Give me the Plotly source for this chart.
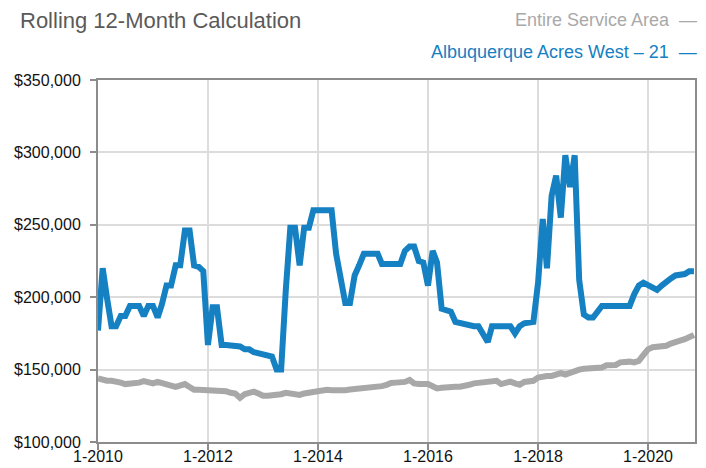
import pandas as pd
import plotly.graph_objects as go

# Monthly dates, Jan 2010 .. Nov 2020
months = pd.date_range("2010-01-01", periods=131, freq="MS")

# Albuquerque Acres West – 21 (rolling 12-month, $ thousands)
area_values_k = [
    177, 220, 200, 180, 180, 187, 187, 194, 194, 194, 187, 194,   # 2010
    194, 186, 195, 208, 208, 222, 222, 246, 246, 222, 221, 218,   # 2011
    167, 193, 193, 167, 167, 167, 167, 166, 164, 164, 162, 161,   # 2012
    160, 160, 159, 150, 150, 205, 248, 248, 222, 248, 248, 260,   # 2013
    260, 260, 260, 260, 230, 213, 196, 196, 215, 222, 230, 230,   # 2014
    230, 230, 223, 223, 223, 223, 223, 232, 235, 235, 225, 224,   # 2015
    208, 232, 224, 192, 191, 190, 183, 182, 181, 181, 180, 180,   # 2016
    175, 169, 180, 180, 180, 180, 180, 175, 180, 182, 183, 183,   # 2017
    210, 254, 220, 270, 284, 255, 298, 276, 298, 212, 188, 186,   # 2018
    186, 190, 194, 194, 194, 194, 194, 194, 194, 202, 208, 210,   # 2019
    208, 207, 205, 208, 211, 213, 215, 215, 216, 218, 218,        # 2020
]

# Entire Service Area (rolling 12-month, $ thousands)
service_values_k = [
    144, 143, 142.3, 142.3, 142, 141, 140, 140, 140, 141, 142, 141,            # 2010
    140.5, 141.5, 141, 140, 139, 138, 139.5, 140, 138, 136, 136, 136,         # 2011
    136, 135.5, 135, 135.5, 135, 134, 133.5, 130.5, 133, 134, 134.8, 133.5,   # 2012
    132, 132, 132, 132, 133, 134, 133.5, 133, 132.5, 133.5, 134, 135,         # 2013
    135.8, 136, 136, 135.8, 135.5, 135.2, 135.8, 136.2, 136.4, 136.6, 136.8, 137,  # 2014
    137.2, 138, 138.6, 139.5, 140.8, 141, 141, 141.5, 142.8, 140.5, 140, 140,      # 2015
    140, 138.5, 137, 137.5, 138, 138.2, 138.2, 138.2, 138.5, 139.5, 140.5, 140.7,  # 2016
    141, 141, 141.5, 142.3, 140, 141, 141.7, 140.5, 139.5, 141.5, 142.3, 142.3,    # 2017
    144.5, 145.6, 145.6, 145.6, 147, 147.5, 146.5, 148, 149.5, 150, 150.6, 150.9,  # 2018
    150.9, 150.9, 151.5, 153, 153.2, 153.2, 155, 155.5, 155.5, 155, 156, 160,      # 2019
    164, 165.5, 165.8, 165.8, 166.5, 168, 168.5, 170, 171, 172.5, 174,             # 2020
]

area_values = [v * 1000 for v in area_values_k]
service_values = [v * 1000 for v in service_values_k]

x_tick_dates = ["2010-01-01", "2012-01-01", "2014-01-01", "2016-01-01",
                "2018-01-01", "2020-01-01"]
x_tick_labels = ["1-2010", "1-2012", "1-2014", "1-2016", "1-2018", "1-2020"]

title_text = "Rolling 12-Month Calculation"
service_name = "Entire Service Area"
area_name = "Albuquerque Acres West – 21"

BLUE = "#1580c2"
GRAY = "#a8a8a8"
BASE_FONT = "Liberation Sans, Arial, Helvetica, sans-serif"

# The page body adds an 8px offset, so the figure is 8px smaller than the window.
W, H = 698, 460
L, R, T, B = 90, 11, 72, 26
PW, PH = W - L - R, H - T - B


def px_x(x):
    return (x - L) / PW


def px_y(y):
    return (H - B - y) / PH


fig = go.Figure()
fig.add_trace(go.Scatter(x=months, y=service_values, mode="lines",
                         name=service_name,
                         line=dict(color=GRAY, width=6)))
fig.add_trace(go.Scatter(x=months, y=area_values, mode="lines",
                         name=area_name,
                         line=dict(color=BLUE, width=6)))

fig.update_layout(
    width=W, height=H,
    margin=dict(l=L, r=R, t=T, b=B, autoexpand=False),
    paper_bgcolor="white", plot_bgcolor="white",
    showlegend=False,
    font=dict(family=BASE_FONT, size=16, color="#111111"),
)

fig.update_xaxes(
    range=["2010-01-01", "2020-11-08"],
    tickmode="array", tickvals=x_tick_dates, ticktext=x_tick_labels,
    showgrid=True, gridcolor="#dcdcdc", gridwidth=1.5,
    showline=True, linecolor="#8c8c8c", linewidth=2, mirror=True,
    ticks="outside", ticklen=6, tickcolor="#8c8c8c", tickwidth=1.5,
    ticklabelstandoff=-7,
    tickfont=dict(size=16, color="#111111"),
    zeroline=False, automargin=False,
)
fig.update_yaxes(
    range=[100000, 350000], dtick=50000, tick0=100000,
    tickformat="$,.0f",
    showgrid=True, gridcolor="#dcdcdc", gridwidth=1.5,
    showline=True, linecolor="#8c8c8c", linewidth=2, mirror=True,
    ticks="outside", ticklen=6, tickcolor="#8c8c8c", tickwidth=1.5,
    ticklabelstandoff=6,
    tickfont=dict(size=16, color="#111111"),
    zeroline=False, automargin=False,
)

fig.add_annotation(
    text=title_text, xref="paper", yref="paper",
    x=px_x(10), y=px_y(-2), xanchor="left", yanchor="top",
    showarrow=False, font=dict(family=BASE_FONT, size=22, color="#5a5a5a"),
)
fig.add_annotation(
    text=service_name + "  —", xref="paper", yref="paper",
    x=px_x(691), y=px_y(12), xanchor="right", yanchor="middle",
    showarrow=False, font=dict(family=BASE_FONT, size=18, color="#a9a9a9"),
)
fig.add_annotation(
    text=area_name + "  —", xref="paper", yref="paper",
    x=px_x(691), y=px_y(44), xanchor="right", yanchor="middle",
    showarrow=False, font=dict(family=BASE_FONT, size=18, color=BLUE),
)

fig.write_html("out.html")
